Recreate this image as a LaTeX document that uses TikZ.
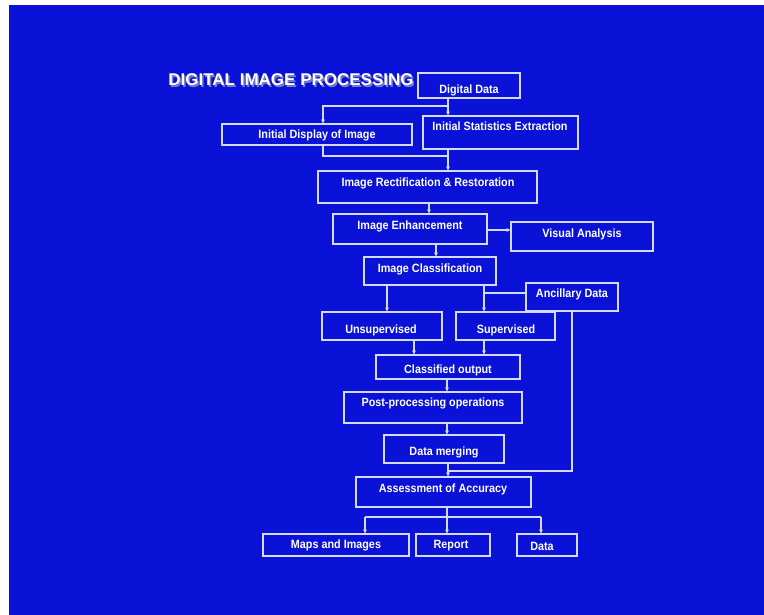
\documentclass[tikz,border=0pt]{standalone}
\usepackage{fontspec}
\setmainfont{Liberation Sans}
\newfontfamily\boxfont[FakeStretch=0.9]{Liberation Sans Bold}
\newfontfamily\titlefont{Liberation Sans Bold}
\usetikzlibrary{arrows.meta}
\definecolor{bg}{RGB}{10,18,216}
\definecolor{ln}{RGB}{212,218,255}
\definecolor{shadowc}{RGB}{120,125,200}
\tikzset{
  bx/.style={draw=ln, line width=1.2pt, rectangle, inner sep=0pt},
  lbl/.style={text=white, font=\boxfont\fontsize{12}{14}\selectfont, inner sep=0pt},
  ttl/.style={text=white, font=\titlefont\fontsize{17}{20}\selectfont, inner sep=0pt},
  ttlshadow/.style={text=shadowc, font=\titlefont\fontsize{17}{20}\selectfont, inner sep=0pt},
  conn/.style={draw=ln, line width=1.2pt, -{Stealth[length=4pt,width=4pt]}},
  plainln/.style={draw=ln, line width=1.2pt},
}
\newcommand\mybox[5]{\node[bx, minimum width={(#4-#2)*1pt}, minimum height={(#5-#3)*1pt}] (#1) at ({(#2+#4)/2},{(#3+#5)/2}) {};}
\begin{document}
\begin{tikzpicture}[x=1pt,y=-1pt]
\useasboundingbox (0,0) rectangle (764,615);
\fill[white] (0,0) rectangle (764,615);
\fill[bg] (9,5) rectangle (764,615);

% title
\node[ttlshadow] (tshadow) at (292.5,81.5) {DIGITAL IMAGE PROCESSING};
\node[ttl] (title) at (291,80) {DIGITAL IMAGE PROCESSING};

% boxes
\mybox{dd}{418}{73}{520}{98}
\mybox{idi}{222}{124}{412}{145}
\mybox{ise}{423}{116}{578}{149}
\mybox{irr}{318}{171}{537}{203}
\mybox{ie}{333}{214}{487}{244}
\mybox{va}{511}{222}{653}{251}
\mybox{ic}{364}{257}{496}{285}
\mybox{ad}{526}{283}{618}{311}
\mybox{un}{322}{312}{442}{340}
\mybox{su}{456}{312}{555}{340}
\mybox{co}{376}{355}{520}{379}
\mybox{pp}{344}{392}{522}{423}
\mybox{dm}{384}{435}{504}{463}
\mybox{aa}{356}{477}{531}{507}
\mybox{mi}{263}{534}{409}{556}
\mybox{rp}{416}{534}{490}{556}
\mybox{da}{517}{534}{577}{556}

% labels
\node[lbl] (tdd) at (469,90) {Digital Data};
\node[lbl] (tidi) at (317,135) {Initial Display of Image};
\node[lbl] (tise) at (500,126) {Initial Statistics Extraction};
\node[lbl] (tirr) at (428,183) {Image Rectification \& Restoration};
\node[lbl] (tie) at (410,226) {Image Enhancement};
\node[lbl] (tva) at (582,234) {Visual Analysis};
\node[lbl] (tic) at (430,269) {Image Classification};
\node[lbl] (tad) at (572,294) {Ancillary Data};
\node[lbl] (tun) at (381,330) {Unsupervised};
\node[lbl] (tsu) at (506,330) {Supervised};
\node[lbl] (tco) at (448,370) {Classified output};
\node[lbl] (tpp) at (433,403) {Post-processing operations};
\node[lbl] (tdm) at (444,452) {Data merging};
\node[lbl] (taa) at (443,489) {Assessment of Accuracy};
\node[lbl] (tmi) at (336,545) {Maps and Images};
\node[lbl] (trp) at (451,546) {Report};
\node[lbl] (tda) at (542,546) {Data};

% helper coordinates
\coordinate (x448) at (448,0);
\coordinate (x429) at (429,0);
\coordinate (x436) at (436,0);
\coordinate (x387) at (387,0);
\coordinate (x484) at (484,0);
\coordinate (x414) at (414,0);
\coordinate (x447) at (447,0);
\coordinate (x572) at (572,0);
\coordinate (y230) at (0,230);
\coordinate (y293) at (0,293);
\coordinate (j1) at (323,106);
\coordinate (j2) at (323,156);
\coordinate (j3) at (572,471);
\coordinate (j4) at (447,517);
\coordinate (jl) at (365,517);
\coordinate (jr) at (541,517);

% connectors
\draw[conn] (dd.south -| x448) -- (ise.north -| x448);
\draw[conn] (j1 -| x448) -- (j1) -- (idi.north -| j1);
\draw[plainln] (idi.south -| j2) -- (j2) -- (j2 -| x448);
\draw[conn] (ise.south -| x448) -- (irr.north -| x448);
\draw[conn] (irr.south -| x429) -- (ie.north -| x429);
\draw[conn] (ie.east |- y230) -- (va.west |- y230);
\draw[conn] (ie.south -| x436) -- (ic.north -| x436);
\draw[conn] (ic.south -| x387) -- (un.north -| x387);
\draw[conn] (ic.south -| x484) -- (su.north -| x484);
\draw[plainln] (ad.west |- y293) -- (x484 |- y293);
\draw[plainln] (ad.south -| x572) -- (j3) -- (j3 -| x448);
\draw[conn] (un.south -| x414) -- (co.north -| x414);
\draw[conn] (su.south -| x484) -- (co.north -| x484);
\draw[conn] (co.south -| x447) -- (pp.north -| x447);
\draw[conn] (pp.south -| x447) -- (dm.north -| x447);
\draw[conn] (dm.south -| x448) -- (aa.north -| x448);
\draw[plainln] (aa.south -| j4) -- (j4);
\draw[plainln] (jl) -- (jr);
\draw[conn] (jl) -- (mi.north -| jl);
\draw[conn] (j4) -- (rp.north -| j4);
\draw[conn] (jr) -- (da.north -| jr);
\end{tikzpicture}
\end{document}
